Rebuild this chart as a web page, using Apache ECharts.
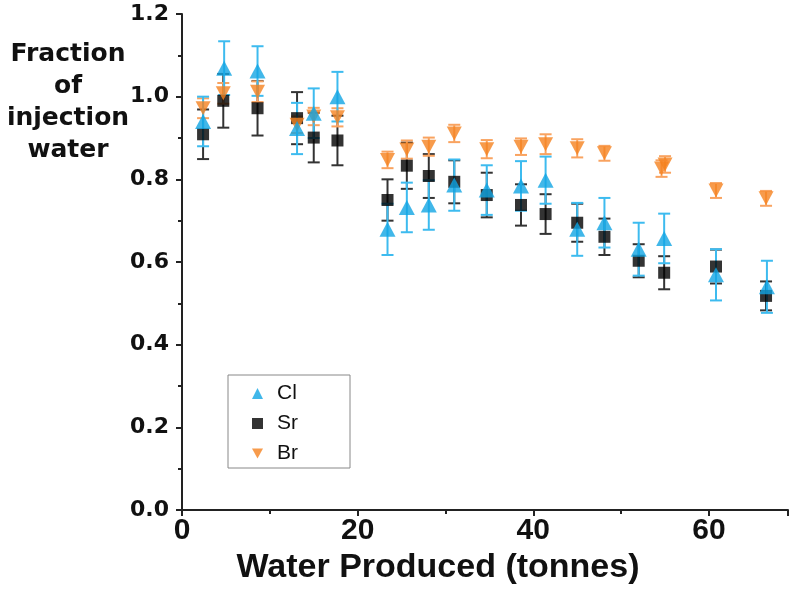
<!DOCTYPE html>
<html>
<head>
<meta charset="utf-8">
<script src="https://cdn.jsdelivr.net/npm/echarts@6/dist/echarts.min.js"></script>
<style>
html, body { margin: 0; padding: 0; background: #fff; }
#chart { width: 790px; height: 592px; }
</style>
</head>
<body>
<div id="chart"></div>
<script>
// values
const clX = [2.4, 4.8, 8.6, 13.1, 15.0, 17.7, 23.4, 25.6, 28.1, 31.0, 34.7, 38.6, 41.4, 45.0, 48.1, 52.0, 54.9, 60.8, 66.6]
const clY = [0.94, 1.069, 1.062, 0.923, 0.96, 1.0, 0.679, 0.732, 0.738, 0.786, 0.774, 0.784, 0.798, 0.679, 0.695, 0.631, 0.657, 0.569, 0.540]
const clErr = [0.06, 0.065, 0.06, 0.062, 0.06, 0.06, 0.062, 0.06, 0.06, 0.062, 0.06, 0.06, 0.057, 0.064, 0.06, 0.064, 0.06, 0.062, 0.063]

const srX = [2.4, 4.7, 8.6, 13.1, 15.0, 17.7, 23.4, 25.6, 28.1, 31.0, 34.7, 38.6, 41.4, 45.0, 48.1, 52.0, 54.9, 60.8, 66.5]
const srY = [0.909, 0.99, 0.972, 0.948, 0.901, 0.894, 0.75, 0.833, 0.808, 0.794, 0.762, 0.738, 0.716, 0.695, 0.661, 0.603, 0.574, 0.589, 0.518]
const srErr = [0.06, 0.065, 0.066, 0.063, 0.06, 0.06, 0.05, 0.056, 0.053, 0.052, 0.054, 0.05, 0.048, 0.046, 0.044, 0.04, 0.04, 0.041, 0.035]

const brX = [2.4, 4.7, 8.6, 13.1, 15.0, 17.7, 23.4, 25.6, 28.1, 31.0, 34.7, 38.6, 41.4, 45.0, 48.1, 54.6, 55.0, 60.8, 66.5]
const brY = [0.972, 1.008, 1.012, 0.932, 0.952, 0.95, 0.847, 0.872, 0.879, 0.911, 0.873, 0.879, 0.885, 0.875, 0.863, 0.826, 0.836, 0.773, 0.754]
const brErr = [0.024, 0.025, 0.025, 0.02, 0.021, 0.022, 0.02, 0.022, 0.022, 0.021, 0.022, 0.02, 0.024, 0.022, 0.018, 0.02, 0.02, 0.018, 0.018]

const yTitle = 'Fraction\nof\ninjection\nwater'
const xTitle = 'Water Produced (tonnes)'

const downTri = 'path://M0,0 L10,0 L5,9 Z'
const font = 'Liberation Sans, Arial, sans-serif'
const wide = 'DejaVu Sans, sans-serif'

function points(xs, ys) {
	return xs.map((x, i) => [x, ys[i]])
}
function bars(xs, ys, es) {
	return xs.map((x, i) => [x, ys[i] - es[i], ys[i] + es[i]])
}
function errorItem(color, cap) {
	return function(params, api) {
		const x = api.value(0)
		const lo = api.coord([x, api.value(1)])
		const hi = api.coord([x, api.value(2)])
		const st = { stroke: color, lineWidth: 2 }
		return {
			type: 'group',
			children: [
				{ type: 'line', shape: { x1: lo[0], y1: lo[1], x2: hi[0], y2: hi[1] }, style: st },
				{ type: 'line', shape: { x1: lo[0] - cap, y1: lo[1], x2: lo[0] + cap, y2: lo[1] }, style: st },
				{ type: 'line', shape: { x1: hi[0] - cap, y1: hi[1], x2: hi[0] + cap, y2: hi[1] }, style: st },
			],
		}
	}
}

const chart = echarts.init(document.getElementById('chart'))
chart.setOption({
	animation: false,
	grid: { left: 182, right: 2, top: 14, bottom: 82 },
	legend: {
		left: 228,
		top: 375,
		orient: 'vertical',
		itemGap: 9,
		itemWidth: 11,
		itemHeight: 11,
		padding: [8, 52, 4, 24],
		borderColor: '#888',
		borderWidth: 1,
		textStyle: { fontSize: 21, fontFamily: font, color: '#111', padding: [0, 0, 0, 9] },
		data: [
			{ name: 'Cl', icon: 'triangle' },
			{ name: 'Sr', icon: 'rect' },
			{ name: 'Br', icon: downTri },
		],
	},
	graphic: [
		{
			type: 'text',
			x: 68,
			y: 38,
			style: {
				text: yTitle,
				fontSize: 25,
				fontWeight: 'bold',
				fontFamily: wide,
				lineHeight: 32,
				align: 'center',
				fill: '#111',
			},
		},
		{
			type: 'text',
			x: 438,
			y: 568,
			style: {
				text: xTitle,
				fontSize: 34,
				fontWeight: 'bold',
				fontFamily: font,
				align: 'center',
				verticalAlign: 'middle',
				fill: '#111',
			},
		},
	],
	xAxis: {
		type: 'value',
		min: 0,
		max: 69,
		interval: 20,
		axisLine: { lineStyle: { color: '#222', width: 2 } },
		axisTick: { length: 6, lineStyle: { color: '#222', width: 2 } },
		minorTick: { show: true, splitNumber: 2, length: 4, lineStyle: { color: '#222', width: 2 } },
		axisLabel: { fontSize: 30, fontWeight: 'bold', fontFamily: font, color: '#111', margin: 6, showMaxLabel: false },
		splitLine: { show: false },
	},
	yAxis: {
		type: 'value',
		min: 0,
		max: 1.2,
		interval: 0.2,
		axisLine: { show: true, lineStyle: { color: '#222', width: 2 } },
		axisTick: { show: true, length: 6, lineStyle: { color: '#222', width: 2 } },
		minorTick: { show: true, splitNumber: 2, length: 4, lineStyle: { color: '#222', width: 2 } },
		axisLabel: {
			fontSize: 22,
			fontWeight: 'bold',
			fontFamily: wide,
			color: '#111',
			margin: 13,
			formatter: v => v.toFixed(1),
		},
		splitLine: { show: false },
	},
	series: [
		{
			type: 'custom',
			name: 'srErr',
			renderItem: errorItem('#333', 6),
			data: bars(srX, srY, srErr),
			encode: { x: 0, y: [1, 2] },
			z: 1,
			silent: true,
		},
		{
			type: 'custom',
			name: 'brErr',
			renderItem: errorItem('#f9a360', 6),
			data: bars(brX, brY, brErr),
			encode: { x: 0, y: [1, 2] },
			z: 1,
			silent: true,
		},
		{
			type: 'custom',
			name: 'clErr',
			renderItem: errorItem('#3dbbef', 6),
			data: bars(clX, clY, clErr),
			encode: { x: 0, y: [1, 2] },
			z: 1,
			silent: true,
		},
		{
			type: 'scatter',
			name: 'Sr',
			symbol: 'rect',
			symbolSize: 12,
			itemStyle: { color: '#000' },
			data: points(srX, srY),
			z: 3,
		},
		{
			type: 'scatter',
			name: 'Br',
			symbol: downTri,
			symbolSize: [15, 14],
			itemStyle: { color: '#f5821f' },
			data: points(brX, brY),
			z: 4,
		},
		{
			type: 'scatter',
			name: 'Cl',
			symbol: 'triangle',
			symbolSize: [16, 15],
			itemStyle: { color: '#12a5e3' },
			data: points(clX, clY),
			z: 5,
		},
	],
})
</script>
</body>
</html>
